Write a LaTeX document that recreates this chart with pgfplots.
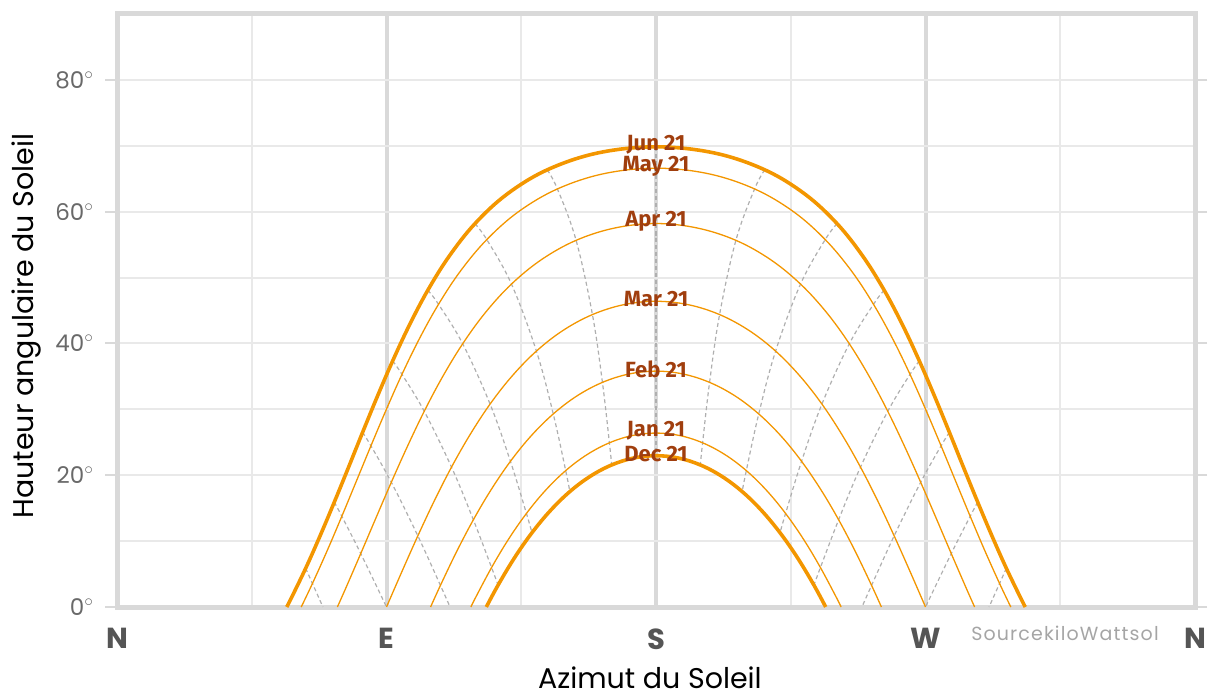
\documentclass[border=0pt]{standalone}
\usepackage{fontspec}
\setmainfont{Poppins}
\newfontfamily\labfont{Fira Sans}
\newfontfamily\srcfont[LetterSpace=6]{Poppins}
\usepackage{pgfplots}
\pgfplotsset{compat=1.18}
\definecolor{frameg}{RGB}{217,217,217}
\definecolor{gridg}{RGB}{233,233,233}
\definecolor{sunor}{RGB}{243,150,0}
\definecolor{hourg}{RGB}{175,175,175}
\definecolor{labc}{RGB}{160,62,14}
\definecolor{tickc}{RGB}{105,105,105}
\definecolor{dirc}{RGB}{85,85,85}
\definecolor{srcc}{RGB}{165,165,165}
\begin{document}
\begin{tikzpicture}
\begin{axis}[
  scale only axis, width=1078pt, height=593pt,
  xmin=0, xmax=360, ymin=0, ymax=90,
  xtick={0,90,180,270,360}, xticklabels={N,E,S,W,N},
  minor xtick={45,135,225,315},
  ytick={0,20,40,60,80},
  yticklabels={0$^{\circ}$,20$^{\circ}$,40$^{\circ}$,60$^{\circ}$,80$^{\circ}$},
  minor ytick={10,30,50,70},
  grid=both,
  major x grid style={line width=4pt, color=frameg},
  minor x grid style={line width=2pt, color=gridg},
  major y grid style={line width=2pt, color=gridg},
  minor y grid style={line width=2pt, color=gridg},
  axis line style={line width=5pt, color=frameg},
  tick align=outside, major tick length=12pt, minor tick length=0pt,
  xtick style={draw=none},
  ytick style={line width=2pt, color=frameg},
  yticklabel style={font=\fontsize{23}{26}\selectfont, text=tickc, xshift=-8pt},
  xticklabel style={font=\fontsize{29}{32}\selectfont\bfseries, text=dirc, yshift=-6pt},
  every axis y label/.style={at={(rel axis cs:-0.0844,0.474)}, rotate=90, anchor=center},
  every axis x label/.style={at={(rel axis cs:0.4944,-0.1366)}, anchor=base},
  label style={font=\fontsize{28.5}{32}\selectfont, text=black},
  ylabel={Hauteur angulaire du Soleil},
  xlabel={Azimut du Soleil},
]
\coordinate (sw) at (rel axis cs:0,0);
\coordinate (ne) at (rel axis cs:1,1);
% hour lines (solar time)
\pgfplotsset{hl/.style={hourg, line width=1.2pt, dash pattern=on 4pt off 3pt, smooth, tension=0.6}}
\addplot[hl] coordinates {(63.00,5.87) (65.27,3.57) (68.77,0)};
\addplot[hl] coordinates {(72.57,15.92) (75.08,13.77) (81.40,8.11) (90,0)};
\addplot[hl] coordinates {(82.02,26.51) (84.80,24.46) (91.61,18.93) (100.47,10.80) (108.01,3.28) (111.23,0)};
\addplot[hl] coordinates {(92.05,37.34) (95.17,35.31) (102.60,29.70) (111.71,21.23) (119.01,13.24) (125.09,5.99) (127.26,3.32)};
\addplot[hl] coordinates {(103.80,48.08) (107.37,45.94) (115.44,39.95) (124.59,30.80) (131.39,22.11) (136.73,14.20) (138.58,11.27)};
\addplot[hl] coordinates {(119.53,58.18) (123.49,55.76) (131.73,49.01) (140.06,38.84) (145.69,29.30) (149.84,20.70) (151.23,17.52)};
\addplot[hl] coordinates {(143.68,66.35) (147.07,63.45) (153.32,55.65) (158.77,44.38) (162.11,34.09) (164.44,24.92) (165.20,21.56)};
\addplot[hl] coordinates {(180,69.84) (180,22.96)};
\addplot[hl] coordinates {(216.32,66.35) (212.93,63.45) (206.68,55.65) (201.23,44.38) (197.89,34.09) (195.56,24.92) (194.80,21.56)};
\addplot[hl] coordinates {(240.47,58.18) (236.51,55.76) (228.27,49.01) (219.94,38.84) (214.31,29.30) (210.16,20.70) (208.77,17.52)};
\addplot[hl] coordinates {(256.20,48.08) (252.63,45.94) (244.56,39.95) (235.41,30.80) (228.61,22.11) (223.27,14.20) (221.42,11.27)};
\addplot[hl] coordinates {(267.95,37.34) (264.83,35.31) (257.40,29.70) (248.29,21.23) (240.99,13.24) (234.91,5.99) (232.74,3.32)};
\addplot[hl] coordinates {(277.98,26.51) (275.20,24.46) (268.39,18.93) (259.53,10.80) (251.99,3.28) (248.77,0)};
\addplot[hl] coordinates {(287.43,15.92) (284.92,13.77) (278.60,8.11) (270,0)};
\addplot[hl] coordinates {(297.00,5.87) (294.73,3.57) (291.23,0)};
% sun paths (21st of each month, every half hour of solar time)
\pgfplotsset{thin path/.style={sunor, line width=1.3pt, smooth, tension=0.6}, thick path/.style={sunor, line width=3.6pt, smooth, tension=0.6}}
% Jun 21
\addplot[thick path] coordinates {(56.67,0) (57.98,1.15) (63.00,5.87) (67.83,10.81) (72.57,15.92) (77.28,21.16) (82.02,26.51) (86.90,31.91) (92.05,37.34) (97.61,42.75) (103.80,48.08) (110.96,53.26) (119.53,58.18) (130.19,62.64) (143.68,66.35) (160.55,68.91) (180,69.84) (199.45,68.91) (216.32,66.35) (229.81,62.64) (240.47,58.18) (249.04,53.26) (256.20,48.08) (262.39,42.75) (267.95,37.34) (273.10,31.91) (277.98,26.51) (282.72,21.16) (287.43,15.92) (292.17,10.81) (297.00,5.87) (302.02,1.15) (303.33,0)};
% May 21
\addplot[thin path] coordinates {(61.52,0) (65.27,3.57) (70.23,8.59) (75.08,13.77) (79.91,19.07) (84.80,24.46) (89.85,29.88) (95.17,35.31) (100.94,40.68) (107.37,45.94) (114.75,51.02) (123.49,55.76) (134.09,60.0) (147.07,63.45) (162.63,65.77) (180,66.6) (197.37,65.77) (212.93,63.45) (225.91,60.0) (236.51,55.76) (245.25,51.02) (252.63,45.94) (259.06,40.68) (264.83,35.31) (270.15,29.88) (275.20,24.46) (280.09,19.07) (284.92,13.77) (289.77,8.59) (294.73,3.57) (298.48,0)};
% Apr 21
\addplot[thin path] coordinates {(73.60,0) (76.32,2.78) (81.40,8.11) (86.46,13.50) (91.61,18.93) (96.95,24.34) (102.60,29.70) (108.70,34.92) (115.44,39.95) (123.03,44.69) (131.73,49.01) (141.78,52.73) (153.32,55.65) (166.22,57.52) (180,58.2) (193.78,57.52) (206.68,55.65) (218.22,52.73) (228.27,49.01) (236.97,44.69) (244.56,39.95) (251.30,34.92) (257.40,29.70) (263.05,24.34) (268.39,18.93) (273.54,13.50) (278.60,8.11) (283.68,2.78) (286.40,0)};
% Mar 21
\addplot[thin path] coordinates {(90,0) (95.19,5.42) (100.47,10.80) (105.94,16.09) (111.71,21.23) (117.89,26.15) (124.59,30.80) (131.95,35.06) (140.06,38.84) (149.00,41.99) (158.77,44.38) (169.19,45.88) (180,46.4) (190.81,45.88) (201.23,44.38) (211.00,41.99) (219.94,38.84) (228.05,35.06) (235.41,30.80) (242.11,26.15) (248.29,21.23) (254.06,16.09) (259.53,10.80) (264.81,5.42) (270,0)};
% Feb 21
\addplot[thin path] coordinates {(104.72,0) (108.01,3.28) (113.38,8.37) (119.01,13.24) (124.99,17.84) (131.39,22.11) (138.27,25.96) (145.69,29.30) (153.65,32.05) (162.11,34.09) (170.95,35.36) (180,35.8) (189.05,35.36) (197.89,34.09) (206.35,32.05) (214.31,29.30) (221.73,25.96) (228.61,22.11) (235.01,17.84) (240.99,13.24) (246.62,8.37) (251.99,3.28) (255.28,0)};
% Jan 21
\addplot[thin path] coordinates {(118.18,0) (119.72,1.41) (125.09,5.99) (130.74,10.28) (136.73,14.20) (143.09,17.70) (149.84,20.70) (156.98,23.13) (164.44,24.92) (172.15,26.03) (180,26.4) (187.85,26.03) (195.56,24.92) (203.02,23.13) (210.16,20.70) (216.91,17.70) (223.27,14.20) (229.26,10.28) (234.91,5.99) (240.28,1.41) (241.82,0)};
% Dec 21
\addplot[thick path] coordinates {(123.33,0) (127.26,3.32) (132.76,7.48) (138.58,11.27) (144.74,14.64) (151.23,17.52) (158.08,19.85) (165.20,21.56) (172.54,22.61) (180,22.96) (187.46,22.61) (194.80,21.56) (201.92,19.85) (208.77,17.52) (215.26,14.64) (221.42,11.27) (227.24,7.48) (232.74,3.32) (236.67,0)};
% labels
\tikzset{ml/.style={font=\labfont\bfseries\fontsize{22}{22}\selectfont, text=labc, anchor=center, yshift=2pt, inner sep=0pt}}
\node[ml] at (axis cs:180,69.84) {Jun 21};
\node[ml] at (axis cs:180,66.6) {May 21};
\node[ml] at (axis cs:180,58.2) {Apr 21};
\node[ml] at (axis cs:180,46.4) {Mar 21};
\node[ml] at (axis cs:180,35.8) {Feb 21};
\node[ml] at (axis cs:180,26.4) {Jan 21};
\node[ml] at (axis cs:180,22.96) {Dec 21};
\end{axis}
\node[font=\srcfont\fontsize{19}{21}\selectfont, text=srcc, anchor=center] at ([xshift=948pt,yshift=-26pt]sw) {SourcekiloWattsol};
\pgfresetboundingbox
\path ([xshift=-117pt,yshift=-89pt]sw) rectangle ([xshift=18pt,yshift=14pt]ne);
\end{tikzpicture}
\end{document}
